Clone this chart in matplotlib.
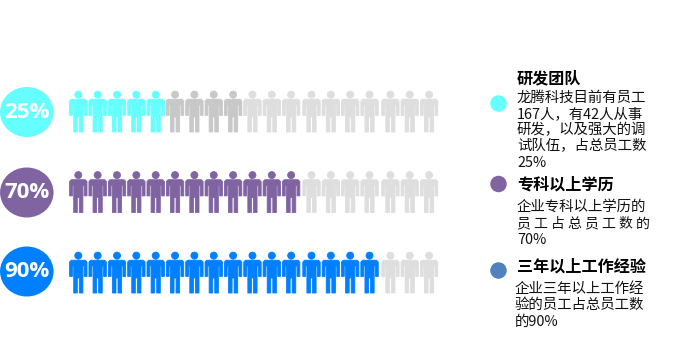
import matplotlib
matplotlib.use('Agg')
import matplotlib.pyplot as plt
from matplotlib.patches import Ellipse, PathPatch
from matplotlib.path import Path
from matplotlib.transforms import Affine2D

plt.rcParams['font.family'] = ['Noto Sans CJK SC', 'DejaVu Sans']

# people out of 19 in each row
labels = ['25%', '70%', '90%']
filled = [5, 12, 16]
darker_grey = [4, 0, 0]
total = 19
colors = ['#66FFFF', '#8064A2', '#0080FF']

titles = ['研发团队', '专科以上学历', '三年以上工作经验']
bodies = [
    ['龙腾科技目前有员工', '167人，有42人从事', '研发，以及强大的调', '试队伍，占总员工数', '25%'],
    ['企业专科以上学历的', '员 工 占 总 员 工 数 的', '70%'],
    ['企业三年以上工作经', '验的员工占总员工数', '的90%'],
]
dot_colors = ['#66FFFF', '#8064A2', '#4F81BD']

ROW_TOP = [91, 171.5, 252]
ROW_MID = [112, 192.5, 271.5]
TITLE_Y = [78, 184, 266.5]
BODY_Y = [97.5, 207, 289]
BODY_X = [517, 517, 515]
DOT_Y = [103.5, 184, 270.5]


def person_path():
    # outline drawn with y going down, head top at 0, centred on x = 0
    head = Path.circle((0, 3.6), 3.5)
    body = [(-7, 8.2), (7, 8.2), (8.7, 10), (8.7, 24.4), (5.9, 24.4), (5.9, 14), (4.6, 14),
            (4.6, 41), (1, 41), (1, 26), (-1, 26), (-1, 41), (-4.6, 41),
            (-4.6, 14), (-5.9, 14), (-5.9, 24.4), (-8.7, 24.4), (-8.7, 10), (-7, 8.2)]
    return Path.make_compound_path(head, Path(body, closed=True))


def person_x(i):
    # the rows are slightly wider spaced after the 12th and 16th figure
    return 78.3 + 19.35 * i + (1 if i >= 12 else 0) + (1.5 if i >= 16 else 0)


fig = plt.figure(figsize=(6.85, 3.62), dpi=100)
ax = fig.add_axes([0, 0, 1, 1])
ax.set_xlim(0, 685)
ax.set_ylim(362, 0)
ax.axis('off')

shape = person_path()
for r in range(len(labels)):
    ax.add_patch(Ellipse((26.8, ROW_MID[r]), 53.5, 50, color=colors[r], lw=0))
    ax.text(26.8, ROW_MID[r], labels[r], color='white', fontsize=16, fontweight='bold',
            ha='center', va='center', family=['Open Sans', 'DejaVu Sans'])

    for i in range(total):
        if i < filled[r]:
            c = colors[r]
        elif i < filled[r] + darker_grey[r]:
            c = '#C8C8C8'
        else:
            c = '#DEDEDE'
        tr = Affine2D().translate(person_x(i), ROW_TOP[r]) + ax.transData
        ax.add_patch(PathPatch(shape, facecolor=c, edgecolor=c, lw=0.6, joinstyle='round',
                               transform=tr))

    ax.add_patch(Ellipse((498.5, DOT_Y[r]), 16.5, 16.5, color=dot_colors[r], lw=0))
    ax.text(517, TITLE_Y[r], titles[r], color='black', fontsize=11.6, fontweight='bold',
            ha='left', va='center')
    for n, line in enumerate(bodies[r]):
        # the spaced out line runs too wide at the full size
        size = 10 if ' ' in line else 10.4
        ax.text(BODY_X[r], BODY_Y[r] + n * 16.3, line, color='#111111', fontsize=size,
                ha='left', va='center')

fig.savefig('out.png', dpi=100, facecolor='white')
